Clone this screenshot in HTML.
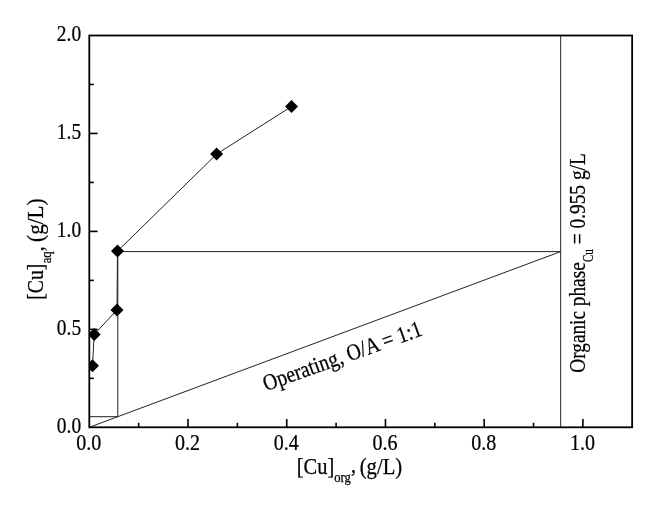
<!DOCTYPE html>
<html><head><meta charset="utf-8"><title>Chart</title>
<style>
html,body{margin:0;padding:0;background:#fff;}
svg{display:block;opacity:0.999;will-change:transform;}
text{font-family:"Liberation Serif",serif;fill:#000;stroke:#000;stroke-width:0.25px;}
</style></head>
<body>
<svg width="653" height="506" viewBox="0 0 653 506">
<rect x="0" y="0" width="653" height="506" fill="#fff"/>
<line x1="89.3" y1="427.3" x2="560.69" y2="251.6" stroke="#222" stroke-width="1.0" fill="none"/>
<line x1="117.8" y1="251.6" x2="560.69" y2="251.6" stroke="#222" stroke-width="1.0" fill="none"/>
<line x1="117.8" y1="251.6" x2="117.8" y2="416.7" stroke="#222" stroke-width="1.0" fill="none"/>
<line x1="89.3" y1="416.7" x2="117.8" y2="416.7" stroke="#222" stroke-width="1.0" fill="none"/>
<line x1="560.69" y1="35.50" x2="560.69" y2="427.3" stroke="#222" stroke-width="1.0" fill="none"/>
<clipPath id="pc"><rect x="89.3" y="35.50" width="542.85" height="391.80"/></clipPath>
<polyline points="92.5,365.7 94.2,334.5 117.0,309.9 117.5,251.1 216.65,154.1 291.5,106.5" stroke="#222" stroke-width="1.0" fill="none" clip-path="url(#pc)"/>
<rect x="89.3" y="35.50" width="542.85" height="391.80" fill="none" stroke="#000" stroke-width="1.8"/>
<line x1="138.66" y1="427.3" x2="138.66" y2="422.8" stroke="#000" stroke-width="1.6"/>
<line x1="188.02" y1="427.3" x2="188.02" y2="419.0" stroke="#000" stroke-width="1.6"/>
<line x1="237.38" y1="427.3" x2="237.38" y2="422.8" stroke="#000" stroke-width="1.6"/>
<line x1="286.74" y1="427.3" x2="286.74" y2="419.0" stroke="#000" stroke-width="1.6"/>
<line x1="336.10" y1="427.3" x2="336.10" y2="422.8" stroke="#000" stroke-width="1.6"/>
<line x1="385.46" y1="427.3" x2="385.46" y2="419.0" stroke="#000" stroke-width="1.6"/>
<line x1="434.82" y1="427.3" x2="434.82" y2="422.8" stroke="#000" stroke-width="1.6"/>
<line x1="484.18" y1="427.3" x2="484.18" y2="419.0" stroke="#000" stroke-width="1.6"/>
<line x1="533.54" y1="427.3" x2="533.54" y2="422.8" stroke="#000" stroke-width="1.6"/>
<line x1="582.90" y1="427.3" x2="582.90" y2="419.0" stroke="#000" stroke-width="1.6"/>
<line x1="89.3" y1="378.32" x2="93.8" y2="378.32" stroke="#000" stroke-width="1.6"/>
<line x1="89.3" y1="329.35" x2="97.6" y2="329.35" stroke="#000" stroke-width="1.6"/>
<line x1="89.3" y1="280.38" x2="93.8" y2="280.38" stroke="#000" stroke-width="1.6"/>
<line x1="89.3" y1="231.40" x2="97.6" y2="231.40" stroke="#000" stroke-width="1.6"/>
<line x1="89.3" y1="182.43" x2="93.8" y2="182.43" stroke="#000" stroke-width="1.6"/>
<line x1="89.3" y1="133.45" x2="97.6" y2="133.45" stroke="#000" stroke-width="1.6"/>
<line x1="89.3" y1="84.48" x2="93.8" y2="84.48" stroke="#000" stroke-width="1.6"/>
<polygon points="86.0,365.7 92.5,359.2 99.0,365.7 92.5,372.2" fill="#000" clip-path="url(#pc)"/>
<polygon points="87.7,334.5 94.2,328.0 100.7,334.5 94.2,341.0" fill="#000" clip-path="url(#pc)"/>
<polygon points="110.5,309.9 117.0,303.4 123.5,309.9 117.0,316.4" fill="#000" clip-path="url(#pc)"/>
<polygon points="111.0,251.1 117.5,244.6 124.0,251.1 117.5,257.6" fill="#000" clip-path="url(#pc)"/>
<polygon points="210.15,154.1 216.65,147.6 223.15,154.1 216.65,160.6" fill="#000" clip-path="url(#pc)"/>
<polygon points="285.0,106.5 291.5,100.0 298.0,106.5 291.5,113.0" fill="#000" clip-path="url(#pc)"/>
<text transform="translate(88.80,450.2) rotate(0) scale(0.872,1)" font-size="23" text-anchor="middle">0.0</text>
<text transform="translate(187.52,450.2) rotate(0) scale(0.872,1)" font-size="23" text-anchor="middle">0.2</text>
<text transform="translate(286.24,450.2) rotate(0) scale(0.872,1)" font-size="23" text-anchor="middle">0.4</text>
<text transform="translate(384.96,450.2) rotate(0) scale(0.872,1)" font-size="23" text-anchor="middle">0.6</text>
<text transform="translate(483.68,450.2) rotate(0) scale(0.872,1)" font-size="23" text-anchor="middle">0.8</text>
<text transform="translate(582.40,450.2) rotate(0) scale(0.872,1)" font-size="23" text-anchor="middle">1.0</text>
<text transform="translate(81.1,433.20) rotate(0) scale(0.845,1)" font-size="23" text-anchor="end">0.0</text>
<text transform="translate(81.1,335.25) rotate(0) scale(0.845,1)" font-size="23" text-anchor="end">0.5</text>
<text transform="translate(81.1,237.30) rotate(0) scale(0.845,1)" font-size="23" text-anchor="end">1.0</text>
<text transform="translate(81.1,139.35) rotate(0) scale(0.845,1)" font-size="23" text-anchor="end">1.5</text>
<text transform="translate(81.1,41.40) rotate(0) scale(0.845,1)" font-size="23" text-anchor="end">2.0</text>
<text transform="translate(296.80,474.30) rotate(0)" font-size="23" textLength="37.50" lengthAdjust="spacingAndGlyphs">[Cu]</text>
<text transform="translate(334.30,482.40) rotate(0)" font-size="14" textLength="16.60" lengthAdjust="spacingAndGlyphs">org</text>
<text transform="translate(350.90,472.00) rotate(0)" font-size="23" textLength="5.00" lengthAdjust="spacingAndGlyphs">,</text>
<text transform="translate(359.70,474.30) rotate(0)" font-size="23" textLength="42.50" lengthAdjust="spacingAndGlyphs">(g/L)</text>
<text transform="translate(42.70,299.80) rotate(-90)" font-size="23" textLength="36.20" lengthAdjust="spacingAndGlyphs">[Cu]</text>
<text transform="translate(51.00,263.30) rotate(-90)" font-size="14" textLength="12.00" lengthAdjust="spacingAndGlyphs">aq</text>
<text transform="translate(43.10,251.30) rotate(-90)" font-size="23" textLength="5.00" lengthAdjust="spacingAndGlyphs">,</text>
<text transform="translate(42.70,241.90) rotate(-90)" font-size="23" textLength="43.50" lengthAdjust="spacingAndGlyphs">(g/L)</text>
<text transform="translate(585.20,372.70) rotate(-90)" font-size="23" textLength="110.40" lengthAdjust="spacingAndGlyphs">Organic phase</text>
<text transform="translate(593.10,262.00) rotate(-90)" font-size="14" textLength="12.90" lengthAdjust="spacingAndGlyphs">Cu</text>
<text transform="translate(585.20,244.30) rotate(-90)" font-size="23" textLength="91.10" lengthAdjust="spacingAndGlyphs">= 0.955 g/L</text>
<text transform="translate(266.10,391.15) rotate(-19.6)" font-size="23" textLength="167.20" lengthAdjust="spacingAndGlyphs">Operating, O/A = 1:1</text>
</svg>
</body></html>
